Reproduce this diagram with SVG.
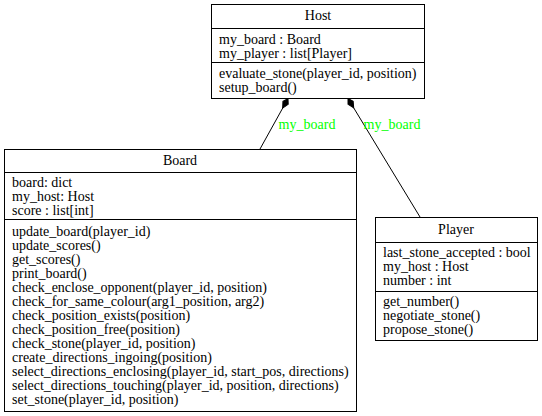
<svg xmlns="http://www.w3.org/2000/svg" width="542" height="416" viewBox="0 0 542 416">
<style>
text{font-family:"Liberation Serif","Times New Roman",serif;font-size:14px;fill:#000}
.t{text-anchor:middle}
.box{fill:#fff;stroke:#000;stroke-width:1}
.sep{stroke:#000;stroke-width:1}
.edge{stroke:#000;stroke-width:1;fill:none}
.lbl{fill:#00ff00;text-anchor:middle}
</style>
<defs>
<marker id="dia" markerUnits="userSpaceOnUse" markerWidth="14" markerHeight="10" refX="0" refY="4" orient="auto" viewBox="0 0 14 8">
<polygon points="0,4 5,1 11,4 5,7" fill="#000" stroke="#000"/>
</marker>
</defs>
<rect width="542" height="416" fill="#fff"/>
<g id="connectors">
<path class="edge" d="M288,98.5 L260,149" marker-start="url(#dia)"/>
<path class="edge" d="M348,98.5 L420,217" marker-start="url(#dia)"/>
<text class="lbl" x="307" y="129">my_board</text>
<text class="lbl" x="392" y="129">my_board</text>
</g>
<g id="Host">
<rect class="box" x="211.5" y="4.5" width="213" height="94"/>
<line class="sep" x1="211.5" y1="28.5" x2="424.5" y2="28.5"/>
<line class="sep" x1="211.5" y1="62.5" x2="424.5" y2="62.5"/>
<text class="t" x="318" y="20">Host</text>
<text x="219" y="44">my_board : Board</text>
<text x="219" y="58">my_player : list[Player]</text>
<text x="219" y="78">evaluate_stone(player_id, position)</text>
<text x="219" y="92">setup_board()</text>
</g>
<g id="Board">
<rect class="box" x="4.5" y="149.5" width="352" height="262"/>
<line class="sep" x1="4.5" y1="172.5" x2="356.5" y2="172.5"/>
<line class="sep" x1="4.5" y1="219.5" x2="356.5" y2="219.5"/>
<text class="t" x="180" y="165">Board</text>
<text x="12" y="187">board: dict</text>
<text x="12" y="201">my_host: Host</text>
<text x="12" y="215">score : list[int]</text>
<text x="12" y="236">update_board(player_id)</text>
<text x="12" y="250">update_scores()</text>
<text x="12" y="264">get_scores()</text>
<text x="12" y="278">print_board()</text>
<text x="12" y="292">check_enclose_opponent(player_id, position)</text>
<text x="12" y="306">check_for_same_colour(arg1_position, arg2)</text>
<text x="12" y="320">check_position_exists(position)</text>
<text x="12" y="334">check_position_free(position)</text>
<text x="12" y="348">check_stone(player_id, position)</text>
<text x="12" y="362">create_directions_ingoing(position)</text>
<text x="12" y="376">select_directions_enclosing(player_id, start_pos, directions)</text>
<text x="12" y="390">select_directions_touching(player_id, position, directions)</text>
<text x="12" y="404">set_stone(player_id, position)</text>
</g>
<g id="Player">
<rect class="box" x="375.5" y="217.5" width="162" height="123"/>
<line class="sep" x1="375.5" y1="242.5" x2="537.5" y2="242.5"/>
<line class="sep" x1="375.5" y1="291.5" x2="537.5" y2="291.5"/>
<text class="t" x="456" y="234">Player</text>
<text x="383" y="257">last_stone_accepted : bool</text>
<text x="383" y="271">my_host : Host</text>
<text x="383" y="285">number : int</text>
<text x="383" y="306">get_number()</text>
<text x="383" y="320">negotiate_stone()</text>
<text x="383" y="334">propose_stone()</text>
</g>
</svg>
